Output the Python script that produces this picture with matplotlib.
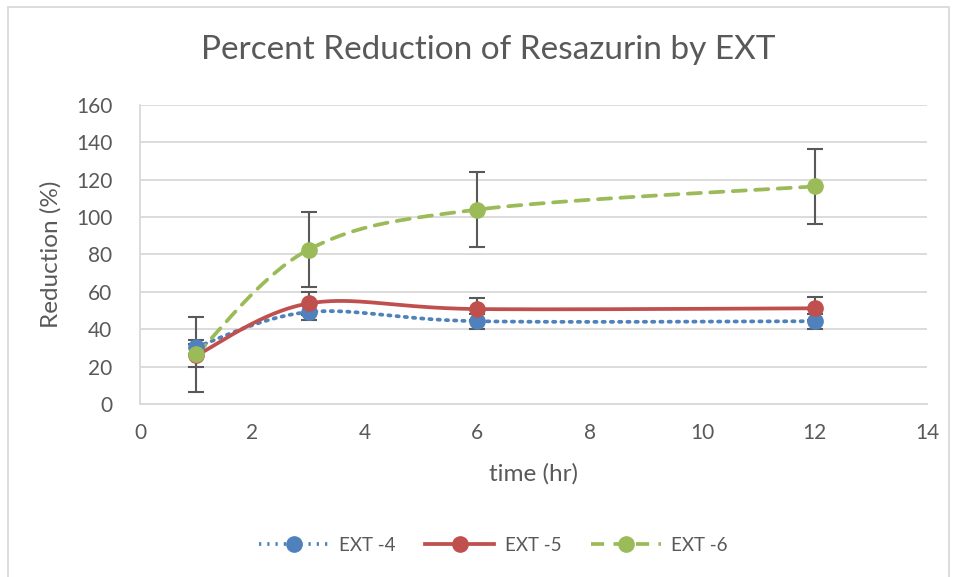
import numpy as np
import matplotlib.pyplot as plt
from matplotlib.lines import Line2D
from matplotlib.patches import Rectangle

plt.rcParams['font.family'] = ['Lato', 'DejaVu Sans']

# data
time_hr = [1, 3, 6, 12]
ext4 = [30.5, 49.2, 44.3, 44.3]
ext5 = [26.0, 53.8, 50.8, 51.2]
ext6 = [26.5, 82.6, 104.0, 116.4]
err4 = [4, 4, 4, 4]
err5 = [6, 6, 6, 6]
err6 = [20, 20, 20, 20]

series = [
    ("EXT -4", ext4, err4, '#4F81BD', (0, (0.6, 1.6))),
    ("EXT -5", ext5, err5, '#C0504D', '-'),
    ("EXT -6", ext6, err6, '#9BBB59', (0, (3.5, 2.5))),
]
text_col = '#595959'
grid_col = '#D9D9D9'


# Excel-like smoothed line (cubic Bezier, Catmull-Rom control points)
def smooth(x, y, n=60):
    p = np.column_stack([x, y]).astype(float)
    pts = [p[0]] + list(p) + [p[-1]]
    out = []
    for i in range(1, len(pts) - 2):
        p0, p1, p2, p3 = pts[i - 1], pts[i], pts[i + 1], pts[i + 2]
        c1 = p1 + (p2 - p0) / 6
        c2 = p2 - (p3 - p1) / 6
        t = np.linspace(0, 1, n)[:, None]
        seg = (1 - t) ** 3 * p1 + 3 * (1 - t) ** 2 * t * c1 + 3 * (1 - t) * t ** 2 * c2 + t ** 3 * p2
        out.append(seg)
    out = np.vstack(out)
    return out[:, 0], out[:, 1]


fig = plt.figure(figsize=(9.54, 5.77), dpi=100)
ax = fig.add_axes([0.1468, 0.2998, 0.8249, 0.5184])

fig.patches.append(Rectangle((0.008, -0.01), 0.987, 0.998, transform=fig.transFigure,
                             fill=False, edgecolor=grid_col, linewidth=1.3))

for name, vals, errs, col, ls in series:
    sx, sy = smooth(time_hr, vals)
    ax.plot(sx, sy, color=col, linewidth=2.7, linestyle=ls, zorder=3,
            solid_capstyle='round', dash_capstyle='round' if ls != '-' else 'butt')
for name, vals, errs, col, ls in series:
    ax.errorbar(time_hr, vals, yerr=errs, fmt='none', ecolor='#595959',
                elinewidth=1.5, capsize=6, capthick=1.5, zorder=4)
for name, vals, errs, col, ls in series:
    ax.plot(time_hr, vals, 'o', color=col, markersize=11, zorder=5)

ax.set_xlim(0, 14)
ax.set_ylim(0, 160)
ax.set_xticks(range(0, 15, 2))
ax.set_yticks(range(0, 161, 20))
ax.grid(axis='y', color=grid_col, linewidth=1.3)
ax.set_axisbelow(True)
for s in ['top', 'right']:
    ax.spines[s].set_visible(False)
for s in ['left', 'bottom']:
    ax.spines[s].set_color(grid_col)
    ax.spines[s].set_linewidth(1.3)
ax.tick_params(length=0, labelsize=15, labelcolor=text_col)
ax.tick_params(axis='y', pad=20)
ax.tick_params(axis='x', pad=14)

fig.text(488 / 954, 1 - 50 / 577, "Percent Reduction of Resazurin by EXT", fontsize=24,
         color=text_col, ha='center', va='center')
ax.set_xlabel("time (hr)", fontsize=17.5, color=text_col, labelpad=14)
ax.set_ylabel("Reduction (%)", fontsize=17.5, color=text_col, labelpad=10)

handles = [Line2D([], [], color=col, linestyle=ls, linewidth=2.7, marker='o', markersize=11)
           for name, vals, errs, col, ls in series]
fig.legend(handles, [s[0] for s in series], loc='center', bbox_to_anchor=(0.517, 0.055),
           ncol=3, frameon=False, fontsize=13.5, labelcolor=text_col, handlelength=3.7,
           columnspacing=1.6, handletextpad=0.55)

fig.savefig("out.png", dpi=100)
